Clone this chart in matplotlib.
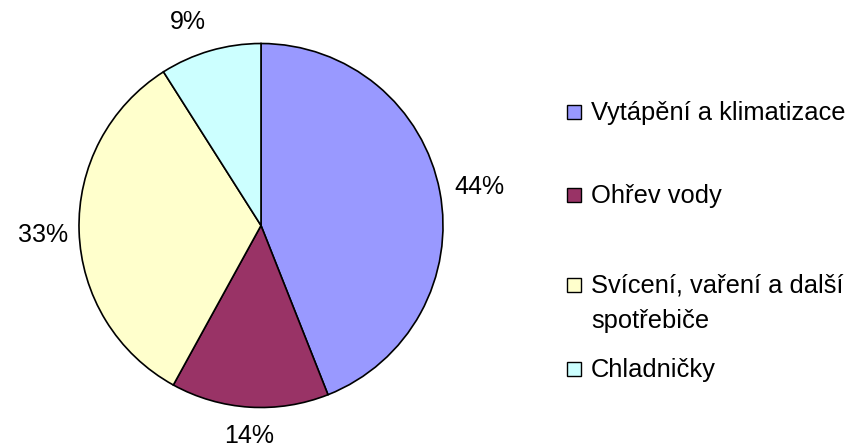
import matplotlib
matplotlib.use("Agg")
import numpy as np
import matplotlib.pyplot as plt
from matplotlib.patches import Rectangle

# data
kategorie = ["Vytápění a klimatizace", "Ohřev vody",
             "Svícení, vaření a další\nspotřebiče", "Chladničky"]
podily = [44, 14, 33, 9]
barvy = ["#9999FF", "#993366", "#FFFFCC", "#CCFFFF"]

W, H = 850, 448
plt.rcParams["font.family"] = ["Liberation Sans", "DejaVu Sans"]

fig = plt.figure(figsize=(W / 100, H / 100), dpi=100, facecolor="white")


def fx(x):
    return x / W


def fy(y):
    return 1 - y / H


# pie: center (261, 225.5) px, radius 182 px
cx, cy, r = 261, 225.5, 182
ax = fig.add_axes([fx(cx - r), fy(cy + r), 2 * r / W, 2 * r / H])
wedges, _, pct = ax.pie(podily, colors=barvy, startangle=90, counterclock=False,
                        autopct="%.0f%%", pctdistance=1.18,
                        wedgeprops=dict(edgecolor="black", linewidth=1.2),
                        textprops=dict(fontsize=18, color="black"))
# label placement like the original (distance / angle tweak per slice)
vzdal = [1.22, 1.16, 1.20, 1.19]
posun = [-0.8, 0.3, 0.7, 3.5]
for w, t, d, p in zip(wedges, pct, vzdal, posun):
    a = np.deg2rad((w.theta1 + w.theta2) / 2 + p)
    t.set_position((d * np.cos(a), d * np.sin(a)))
ax.set_xlim(-1, 1)
ax.set_ylim(-1, 1)
ax.set_aspect("auto")
ax.set_axis_off()

# legend (manual)
radky_y = [120, 203, 293, 377]   # baseline of first line per row
for lab, col, yb in zip(kategorie, barvy, radky_y):
    fig.patches.append(Rectangle((fx(567), fy(yb - 1)), 14 / W, 14 / H,
                                 transform=fig.transFigure, facecolor=col,
                                 edgecolor="black", linewidth=1.0))
    for i, line in enumerate(lab.split("\n")):
        fig.text(fx(591), fy(yb + 35 * i), line, fontsize=18.4,
                 va="baseline", ha="left", color="black")

fig.savefig("out.png", dpi=100, facecolor="white")
